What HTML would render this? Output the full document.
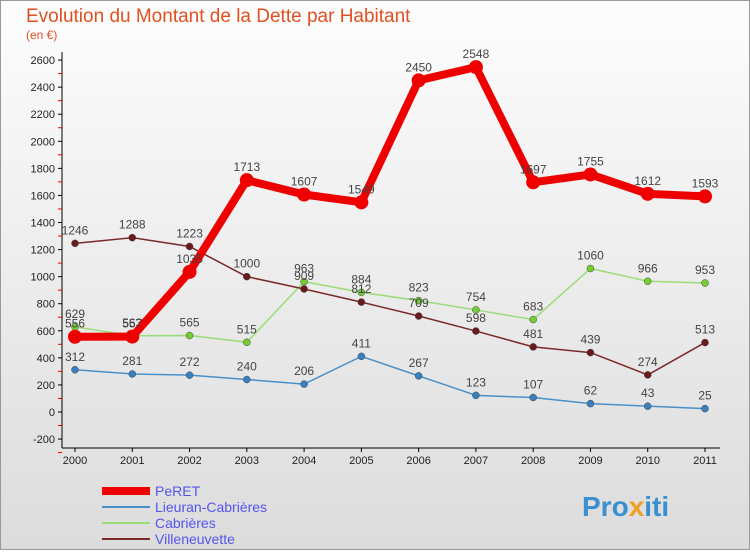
<!DOCTYPE html>
<html><head><meta charset="utf-8"><style>
body{margin:0;width:750px;height:550px;overflow:hidden;font-family:"Liberation Sans",sans-serif}
</style></head><body>
<svg width="750" height="550" xmlns="http://www.w3.org/2000/svg">
<defs><linearGradient id="bg" x1="0" y1="0" x2="0" y2="1"><stop offset="0" stop-color="#fdfdfd"/><stop offset="1" stop-color="#dcdcdc"/></linearGradient></defs>
<rect x="0.5" y="0.5" width="749" height="549" fill="url(#bg)" stroke="#999"/>
<text x="26" y="22" font-size="19" fill="#e05020">Evolution du Montant de la Dette par Habitant</text>
<text x="26" y="39" font-size="12" fill="#e05020">(en €)</text>
<g id="axes"></g>
<g id="series"></g>
<g id="legend"></g>
<text x="582" y="516" font-size="28" font-weight="bold" fill="#3a8fd0">Pro<tspan fill="#f0a020">x</tspan>iti</text>
</svg>
<script>
const years=["2000","2001","2002","2003","2004","2005","2006","2007","2008","2009","2010","2011"];
const yTicks=[-200,0,200,400,600,800,1000,1200,1400,1600,1800,2000,2200,2400,2600];
const peret=[556,557,1035,1713,1607,1549,2450,2548,1697,1755,1612,1593];
const lieuran=[312,281,272,240,206,411,267,123,107,62,43,25];
const cabrieres=[629,563,565,515,963,884,823,754,683,1060,966,953];
const villeneuvette=[1246,1288,1223,1000,909,812,709,598,481,439,274,513];
const NS="http://www.w3.org/2000/svg";
const X=i=>75+i*(630/11);
const Y=v=>412-v*(27.07/200);
function mk(tag,attrs,parent,txt){const e=document.createElementNS(NS,tag);for(const k in attrs)e.setAttribute(k,attrs[k]);if(txt!==undefined)e.textContent=txt;parent.appendChild(e);return e;}
const ax=document.getElementById('axes');
let a=mk('line',{x1:62,y1:52,x2:62,y2:448,stroke:'#000'},ax);


a=mk('line',{x1:62,y1:448,x2:720,y2:448,stroke:'#000'},ax);


yTicks.forEach(t=>{const y=Y(t);
 mk('line',{x1:58,y1:y,x2:62,y2:y,stroke:'#000'},ax);
 mk('line',{x1:58,y1:y+13.5,x2:62,y2:y+13.5,stroke:'#e00'},ax);
 const l=mk('text',{x:55,y:y+4,'font-size':11,'text-anchor':'end',fill:'#222'},ax,String(t));
 
 });
years.forEach((yr,i)=>{const x=X(i);
 mk('line',{x1:x,y1:448,x2:x,y2:452,stroke:'#000'},ax);
 const l=mk('text',{x:x,y:464,'font-size':11,'text-anchor':'middle',fill:'#222'},ax,yr);
 
 });
const sg=document.getElementById('series');
const series=[
 {name:'lieuran',data:lieuran,color:'#4a90c8',dot:'#3a80c0',w:1.5,r:3.5},
 {name:'cabrieres',data:cabrieres,color:'#99dd77',dot:'#77cc33',w:1.5,r:3.5},
 {name:'villeneuvette',data:villeneuvette,color:'#7a2a2a',dot:'#6a1a1a',w:1.5,r:3.5},
 {name:'peret',data:peret,color:'#ee0000',dot:'#ee0000',w:8,r:7}];
series.forEach(s=>{
 const p=mk('polyline',{points:s.data.map((v,i)=>X(i)+','+Y(v)).join(' '),fill:'none',stroke:s.color,'stroke-width':s.w,'stroke-linejoin':'round'},sg);
 
 
 s.data.forEach((v,i)=>{
  const c=mk('circle',{cx:X(i),cy:Y(v),r:s.r,fill:s.dot,stroke:s.r>5?'none':'#444','stroke-width':0.5},sg);
  
  
  const t=mk('text',{x:X(i),y:Y(v)-9,'font-size':12,'text-anchor':'middle',fill:'#444'},sg,String(v));
  
  
 });
});
const lg=document.getElementById('legend');
const leg=[['PeRET','#ee0000',8],['Lieuran-Cabrières','#4a90c8',2],['Cabrières','#99dd77',2],['Villeneuvette','#7a2a2a',2]];
leg.forEach((e,i)=>{const y=491+i*16;
 const l=mk('line',{x1:102,y1:y,x2:150,y2:y,stroke:e[1],'stroke-width':e[2]},lg);
 
 
 const t=mk('text',{x:155,y:y+5,'font-size':14,fill:'#5555ee'},lg,e[0]);
 
 });
</script>
</body></html>
